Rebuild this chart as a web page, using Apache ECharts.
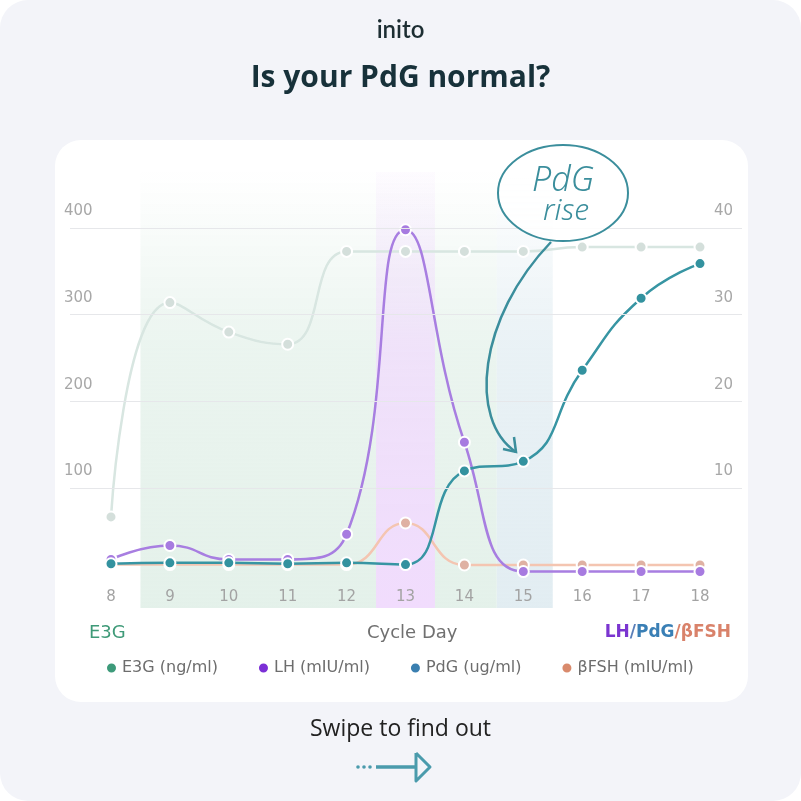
<!DOCTYPE html>
<html>
<head>
<meta charset="utf-8">
<script src="https://cdn.jsdelivr.net/npm/echarts@6/dist/echarts.min.js"></script>
<style>
html,body{margin:0;padding:0;background:#ffffff;}
#wrap{position:relative;width:801px;height:801px;background:#f3f4f9;border-radius:28px;overflow:hidden;}
#card{position:absolute;left:55px;top:140px;width:693px;height:562px;background:#ffffff;border-radius:26px;}
#chart{position:absolute;left:0;top:0;width:801px;height:801px;}
</style>
</head>
<body>
<div id="wrap"><div id="card"></div><div id="chart"></div></div>
<script>
// ---- data ----
const days = ['8','9','10','11','12','13','14','15','16','17','18'];
const e3g  = [67, 314, 280, 266, 373, 373, 373, 373, 378, 378, 378];   // ng/ml, left axis
const lh   = [1.8, 3.4, 1.8, 1.8, 4.7, 39.8, 15.3, 0.4, 0.4, 0.4, 0.4]; // mIU/ml, right axis
const pdg  = [1.3, 1.4, 1.4, 1.3, 1.4, 1.2, 12.0, 13.1, 23.6, 31.9, 35.9]; // ug/ml, right axis
const fsh  = [1.2, 1.2, 1.2, 1.2, 1.2, 6.0, 1.15, 1.15, 1.15, 1.15, 1.15]; // mIU/ml, right axis
const leftTicks  = [100, 400, 100];  // min, max, interval
const rightTicks = [10, 40, 10];
const bandGreen  = [8.5, 14.55];
const bandPurple = [12.5, 13.5];
const bandBlue   = [14.55, 15.5];
const legendNames = ['E3G (ng/ml)', 'LH (mIU/ml)', 'PdG (ug/ml)', 'βFSH (mIU/ml)'];

const FONT = 'DejaVu Sans';
const chart = echarts.init(document.getElementById('chart'), null, {renderer:'canvas'});

function grad(rgb, a0, a1){
  return new echarts.graphic.LinearGradient(0,0,0,1,[
    {offset:0, color:'rgba('+rgb+','+a0+')'},
    {offset:0.4, color:'rgba('+rgb+','+(a1*0.75)+')'},
    {offset:1, color:'rgba('+rgb+','+a1+')'}
  ]);
}

const sym = (c)=>({color:c, borderColor:'#ffffff', borderWidth:2});

const option = {
  backgroundColor:'transparent',
  animation:false,
  textStyle:{fontFamily:FONT},
  title:[
    {text:'inito', left:'center', top:13, textStyle:{fontFamily:'Lato', fontSize:24, fontWeight:600, color:'#1d2e33'}},
    {text:'Is your PdG normal?', left:'center', top:58, textStyle:{fontFamily:'Open Sans', fontSize:30, fontWeight:'bold', color:'#17313a'}},
    {text:'Swipe to find out', left:'center', top:713, textStyle:{fontFamily:'Open Sans', fontSize:23, fontWeight:'normal', color:'#222222'}},
    {text:'E3G', left:84, top:619, textStyle:{fontFamily:FONT, fontSize:18, fontWeight:'normal', color:'#3f9a78'}},
    {text:'Cycle Day', left:362, top:619, textStyle:{fontFamily:FONT, fontSize:18, fontWeight:'normal', color:'#707070'}},
    {text:'{a|LH}{s|/}{b|PdG}{c|/βFSH}', right:65, top:619,
     textStyle:{rich:{
       a:{fontFamily:FONT, fontSize:17, color:'#7b35d0'},
       s:{fontFamily:FONT, fontSize:17, color:'#5a7fb8'},
       b:{fontFamily:FONT, fontSize:17, color:'#3a7fb5'},
       c:{fontFamily:FONT, fontSize:17, color:'#d9826a'}
     }}}
  ],
  legend:{
    left:100, top:655, icon:'circle', itemWidth:11, itemHeight:11, itemGap:39,
    textStyle:{fontFamily:FONT, fontSize:16, color:'#6d6d6d'},
    data:[
      {name:legendNames[0], itemStyle:{color:'#3d9a7a'}},
      {name:legendNames[1], itemStyle:{color:'#7b2fd6'}},
      {name:legendNames[2], itemStyle:{color:'#3a7fb0'}},
      {name:legendNames[3], itemStyle:{color:'#d98a6c'}}
    ]
  },
  grid:[
    {left:70, right:59, top:228, height:260},           // gridlines + y labels
    {left:111, right:101, top:172, bottom:193},         // background bands
    {left:111, right:101, top:228, bottom:226}          // data
  ],
  xAxis:[
    {gridIndex:0, type:'value', min:0, max:1, show:false},
    {gridIndex:1, type:'value', min:8, max:18, show:false},
    {gridIndex:2, type:'category', data:days, boundaryGap:false, z:20,
     axisLine:{show:false}, axisTick:{show:false}, splitLine:{show:false},
     axisLabel:{color:'#a3a3a3', fontSize:15, margin:15, fontFamily:FONT}}
  ],
  yAxis:[
    {gridIndex:0, type:'value', position:'left', min:leftTicks[0], max:leftTicks[1], interval:leftTicks[2], z:20,
     axisLine:{show:false}, axisTick:{show:false},
     splitLine:{show:true, lineStyle:{color:'#e6e7ea', width:1}},
     axisLabel:{inside:true, margin:-6, verticalAlign:'bottom', padding:[0,0,9,0], color:'#a8a8a8', fontSize:15, fontFamily:FONT}},
    {gridIndex:0, type:'value', position:'right', min:rightTicks[0], max:rightTicks[1], interval:rightTicks[2], z:20,
     axisLine:{show:false}, axisTick:{show:false}, splitLine:{show:false},
     axisLabel:{inside:true, margin:9, verticalAlign:'bottom', padding:[0,0,9,0], color:'#a8a8a8', fontSize:15, fontFamily:FONT}},
    {gridIndex:1, type:'value', min:0, max:1, show:false},
    {gridIndex:2, type:'value', min:0, max:400, show:false},
    {gridIndex:2, type:'value', min:0, max:40, show:false}
  ],
  series:[
    {type:'line', xAxisIndex:1, yAxisIndex:2, data:[[8,0]], symbol:'none', lineStyle:{opacity:0}, z:-1, silent:true,
     markArea:{silent:true, z:-1, data:[
       [{xAxis:bandGreen[0], itemStyle:{color:grad('228,241,234',0,1)}}, {xAxis:bandGreen[1]}],
       [{xAxis:bandBlue[0], itemStyle:{color:grad('226,237,242',0,1)}}, {xAxis:bandBlue[1]}],
       [{xAxis:bandPurple[0], itemStyle:{color:grad('241,220,253',0.1,1)}}, {xAxis:bandPurple[1]}]
     ]}},
    {name:legendNames[0], type:'line', xAxisIndex:2, yAxisIndex:3, data:e3g, smooth:0.5,
     symbol:'circle', symbolSize:11, itemStyle:sym('#d4dfdb'), lineStyle:{color:'#d8e6e1', width:2.5}, z:3},
    {name:legendNames[3], type:'line', xAxisIndex:2, yAxisIndex:4, data:fsh, smooth:0.5,
     symbol:'circle', symbolSize:11, itemStyle:sym('#dfb1a3'), lineStyle:{color:'#f4c5b1', width:2.5}, z:4},
    {name:legendNames[1], type:'line', xAxisIndex:2, yAxisIndex:4, data:lh, smooth:0.5,
     symbol:'circle', symbolSize:11, itemStyle:sym('#a77be0'), lineStyle:{color:'#a87ee1', width:2.5}, z:5},
    {name:legendNames[2], type:'line', xAxisIndex:2, yAxisIndex:4, data:pdg, smooth:0.5,
     symbol:'circle', symbolSize:11, itemStyle:sym('#33929f'), lineStyle:{color:'#3795a3', width:2.5}, z:6}
  ],
  graphic:[
    {type:'ellipse', shape:{cx:563, cy:193, rx:65, ry:48}, style:{fill:'rgba(255,255,255,0.85)', stroke:'#3b8e9c', lineWidth:2}, z:100},
    {type:'text', x:563, y:181, style:{text:'PdG', fill:'#3b8e9c', fontSize:34, fontFamily:'Noto Sans', fontStyle:'italic', fontWeight:300, align:'center', verticalAlign:'middle'}, z:101},
    {type:'text', x:566, y:211, style:{text:'rise', fill:'#3b8e9c', fontSize:30, fontFamily:'Noto Sans', fontStyle:'italic', fontWeight:300, align:'center', verticalAlign:'middle'}, z:101},
    {type:'bezierCurve', shape:{x1:551, y1:242, cpx1:478, cpy1:318, cpx2:468, cpy2:420, x2:516, y2:452}, style:{stroke:'#3b8e9c', lineWidth:2.5, fill:'none'}, z:100},
    {type:'polyline', shape:{points:[[514,437],[516,452],[503,449]]}, style:{stroke:'#3b8e9c', lineWidth:2.5, fill:'none'}, z:100},
    {type:'circle', shape:{cx:358, cy:767, r:1.8}, style:{fill:'#4a9bac'}},
    {type:'circle', shape:{cx:364, cy:767, r:1.8}, style:{fill:'#4a9bac'}},
    {type:'circle', shape:{cx:370, cy:767, r:1.8}, style:{fill:'#4a9bac'}},
    {type:'line', shape:{x1:376, y1:767, x2:416, y2:767}, style:{stroke:'#4a9bac', lineWidth:3.5}},
    {type:'polyline', shape:{points:[[416,753],[430,767],[416,781],[416,753]]}, style:{stroke:'#4a9bac', lineWidth:3, fill:'none', lineJoin:'round'}}
  ]
};
chart.setOption(option);
</script>
</body>
</html>
